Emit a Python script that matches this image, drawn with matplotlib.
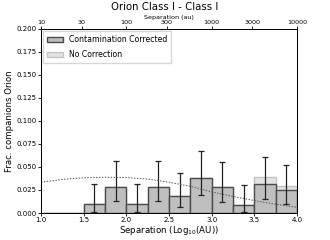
import numpy as np
import matplotlib
matplotlib.use("Agg")
import matplotlib.pyplot as plt

# ---- data ----
bin_edges = np.arange(1.0, 4.01, 0.25)
frac_corrected = [0.0, 0.0, 0.0095, 0.0286, 0.0095, 0.0286, 0.019, 0.038, 0.0286, 0.0088, 0.032, 0.025]
frac_nocorr = [0.0, 0.0, 0.0095, 0.0286, 0.0095, 0.0286, 0.019, 0.038, 0.0286, 0.0088, 0.0388, 0.029]
err_top = [0.0, 0.0, 0.032, 0.0565, 0.032, 0.0565, 0.044, 0.0677, 0.0558, 0.030, 0.0605, 0.052]
err_bot = [0.0, 0.0, 0.0008, 0.013, 0.0008, 0.013, 0.006, 0.0196, 0.0123, 0.0008, 0.015, 0.010]

model_x = [1.0, 1.25, 1.5, 1.75, 2.0, 2.25, 2.5, 2.75, 3.0, 3.25, 3.5, 3.75, 4.0]
model_y = [0.0334, 0.0365, 0.0383, 0.0388, 0.0385, 0.0368, 0.0335, 0.029, 0.023, 0.018, 0.0135, 0.0095, 0.0062]

top_ticks_au = [10, 30, 100, 300, 1000, 3000, 10000]

centers = 0.5 * (bin_edges[:-1] + bin_edges[1:])
width = 0.25

fig = plt.figure(figsize=(3.3, 2.4), dpi=100)
ax = fig.add_axes([0.124, 0.1125, 0.776, 0.767])

ax.bar(centers, frac_nocorr, width=width, color="#e3e3e3", edgecolor="#c4c4c4",
       lw=1.0, label="No Correction")
ax.bar(centers, frac_corrected, width=width, color="#bfbfbf", edgecolor="#4a4a4a",
       lw=1.0, label="Contamination Corrected")

sel = [i for i in range(len(centers)) if err_top[i] > 0]
yc = np.array([frac_corrected[i] for i in sel])
lo = yc - np.array([err_bot[i] for i in sel])
hi = np.array([err_top[i] for i in sel]) - yc
ax.errorbar(centers[sel], yc, yerr=[lo, hi], fmt="none", ecolor="#222222",
            elinewidth=0.9, capsize=2, capthick=0.9)

ax.plot(model_x, model_y, color="#555555", ls=(0, (1.5, 1.5)), lw=0.7)

ax.set_xlim(1.0, 4.0)
ax.set_ylim(0.0, 0.2)
ax.set_xticks([1.0, 1.5, 2.0, 2.5, 3.0, 3.5, 4.0])
ax.set_yticks(np.arange(0, 0.201, 0.025))
ax.set_yticklabels([f"{v:.3f}" for v in np.arange(0, 0.201, 0.025)])
ax.tick_params(labelsize=5, length=2, width=0.6, pad=1)
ax.set_xlabel("Separation (Log$_{10}$(AU))", fontsize=6.2, labelpad=0.5)
ax.set_ylabel("Frac. companions Orion", fontsize=6.2, labelpad=2)

handles, labels = ax.get_legend_handles_labels()
ax.legend(handles[::-1], labels[::-1], loc="upper left", fontsize=5.6,
          frameon=True, fancybox=False, edgecolor="#cccccc", handlelength=2.0,
          handleheight=0.7, borderpad=0.5, labelspacing=0.75, handletextpad=0.8,
          borderaxespad=0.3)

ax2 = ax.twiny()
ax2.set_xlim(1.0, 4.0)
ax2.set_xticks(np.log10(top_ticks_au))
ax2.set_xticklabels([str(t) for t in top_ticks_au])
ax2.tick_params(labelsize=4.6, length=2, width=0.6, pad=0.5)
ax2.set_xlabel("Separation (au)", fontsize=4.6, labelpad=1)

for a in (ax, ax2):
    for s in a.spines.values():
        s.set_linewidth(0.7)

fig.suptitle("Orion Class I - Class I", fontsize=7.3, y=0.99)

fig.savefig("out.png", dpi=100)
